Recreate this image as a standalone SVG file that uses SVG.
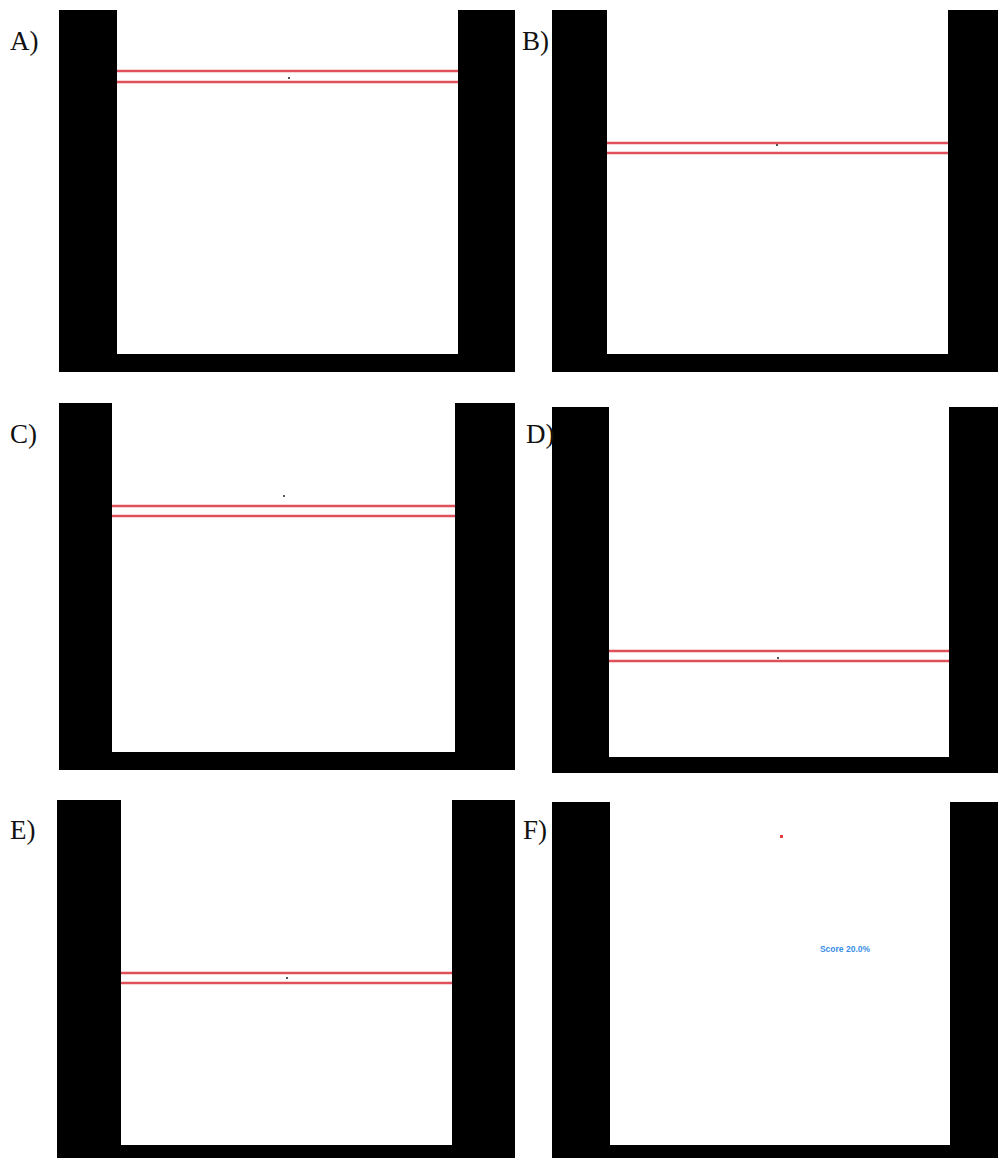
<svg xmlns="http://www.w3.org/2000/svg" width="998" height="1158" viewBox="0 0 998 1158">
<style>
.wall{fill:#000}
.pad{stroke:#e0505a;stroke-width:2.6;fill:none}
.ball{fill:#555}
.lbl{font-family:"Liberation Serif",serif;font-size:27px;fill:#111}
</style>
<rect width="998" height="1158" fill="#fff"/>
<g id="panelA">
<path class="wall" d="M59,10H117V354H458V10H515V372H59Z"/>
<line class="pad" x1="117" y1="71" x2="458" y2="71"/>
<line class="pad" x1="117" y1="82" x2="458" y2="82"/>
<rect class="ball" x="288" y="77" width="2" height="2"/>
<text class="lbl" x="10" y="50">A)</text>
</g>
<g id="panelB">
<path class="wall" d="M552,10H607V354H948V10H998V372H552Z"/>
<line class="pad" x1="607" y1="143" x2="948" y2="143"/>
<line class="pad" x1="607" y1="153" x2="948" y2="153"/>
<rect class="ball" x="776" y="144" width="2" height="2"/>
<text class="lbl" x="522" y="50">B)</text>
</g>
<g id="panelC">
<path class="wall" d="M59,403H112V752H455V403H515V770H59Z"/>
<line class="pad" x1="112" y1="506" x2="455" y2="506"/>
<line class="pad" x1="112" y1="516" x2="455" y2="516"/>
<rect class="ball" x="283" y="495" width="2" height="2"/>
<text class="lbl" x="10" y="443">C)</text>
</g>
<g id="panelD">
<path class="wall" d="M552,407H609V757H949V407H998V773H552Z"/>
<line class="pad" x1="609" y1="651" x2="949" y2="651"/>
<line class="pad" x1="609" y1="661" x2="949" y2="661"/>
<rect class="ball" x="777" y="657" width="2" height="2"/>
<text class="lbl" x="526" y="443">D)</text>
</g>
<g id="panelE">
<path class="wall" d="M57,800H121V1145H452V800H515V1158H57Z"/>
<line class="pad" x1="121" y1="973" x2="452" y2="973"/>
<line class="pad" x1="121" y1="983" x2="452" y2="983"/>
<rect class="ball" x="286" y="977" width="2" height="2"/>
<text class="lbl" x="10" y="839">E)</text>
</g>
<g id="panelF">
<path class="wall" d="M552,802H610V1145H950V802H998V1158H552Z"/>
<rect x="780" y="835" width="3" height="3" fill="#e04040"/>
<text x="845" y="952" font-family="Liberation Sans,sans-serif" font-size="8.5" font-weight="bold" fill="#3a8ee6" text-anchor="middle">Score 20.0%</text>
<text class="lbl" x="523" y="839">F)</text>
</g>
</svg>
